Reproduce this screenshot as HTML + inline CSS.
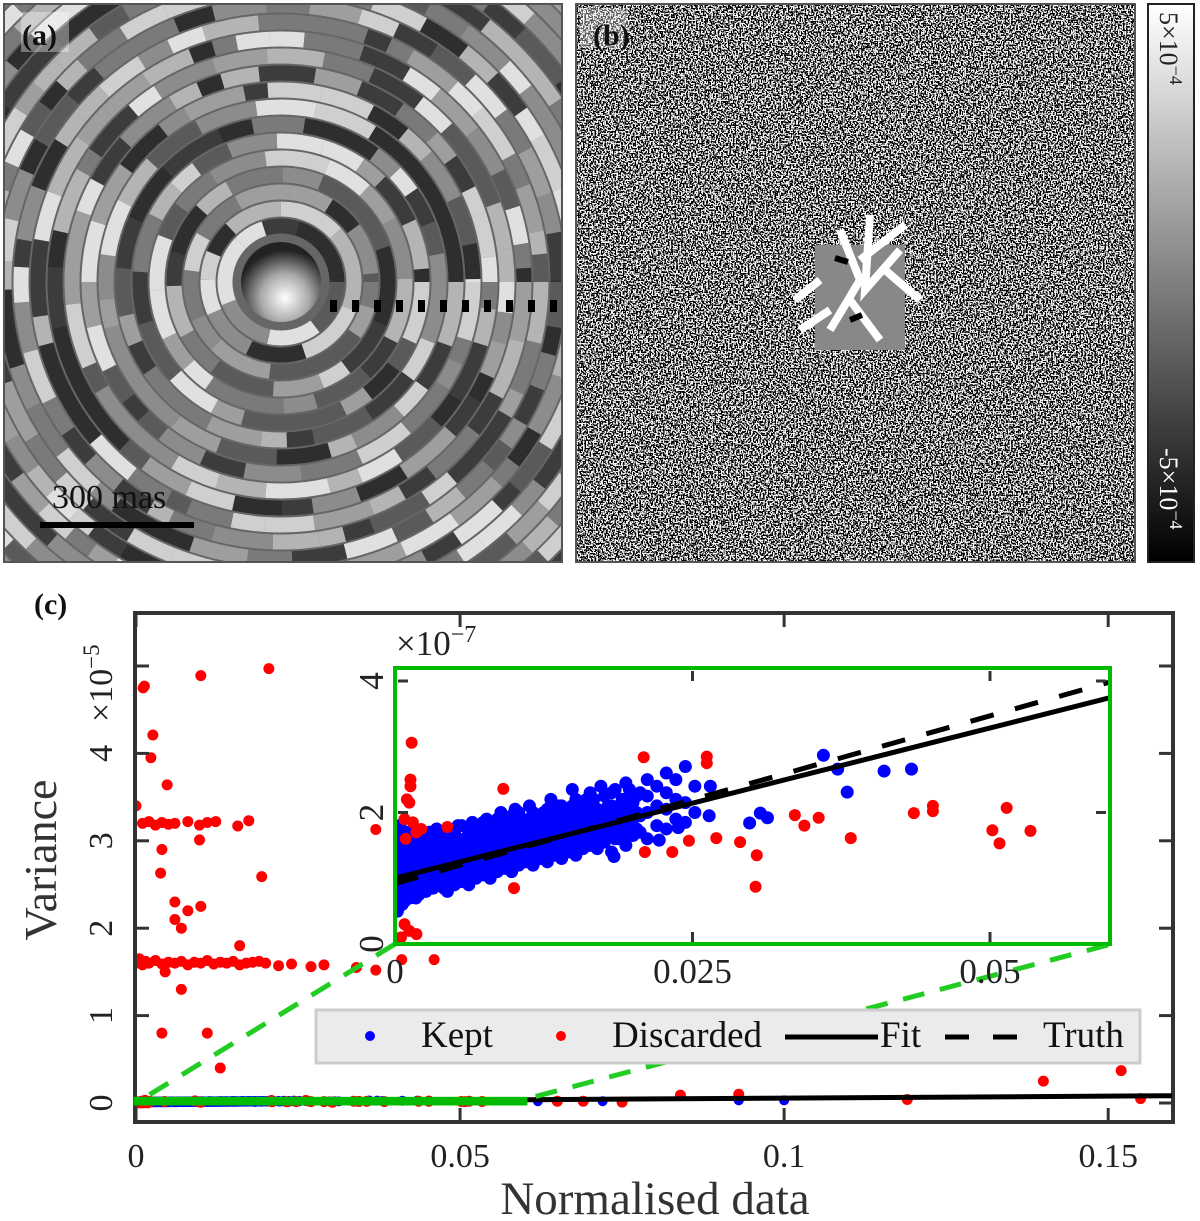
<!DOCTYPE html>
<html><head><meta charset="utf-8"><style>
html,body{margin:0;padding:0;background:#fff;width:1200px;height:1221px;overflow:hidden}
svg text{font-family:"Liberation Serif",serif}
</style></head><body>
<svg id="fig" width="1200" height="1221" viewBox="0 0 1200 1221" xmlns="http://www.w3.org/2000/svg">
<defs>
  <clipPath id="clipA"><rect x="5" y="5" width="556" height="556"/></clipPath>
  <clipPath id="clipB"><rect x="577" y="5" width="557" height="556"/></clipPath>
  <clipPath id="clipMain"><rect x="137" y="615" width="1035" height="505"/></clipPath>
  <clipPath id="clipInset"><rect x="396" y="669" width="713" height="274"/></clipPath>
  <radialGradient id="blob" cx="0.55" cy="0.7" r="0.6">
    <stop offset="0" stop-color="#fff"/><stop offset="0.5" stop-color="#aaa"/><stop offset="1" stop-color="#222"/>
  </radialGradient>
  <linearGradient id="cbar" x1="0" y1="0" x2="0" y2="1">
    <stop offset="0" stop-color="#fff"/><stop offset="1" stop-color="#000"/>
  </linearGradient>
  <filter id="noise" x="0" y="0" width="100%" height="100%">
    <feTurbulence type="fractalNoise" baseFrequency="0.6" numOctaves="1" seed="3"/>
    <feColorMatrix type="matrix" values="0 0 0 0 0  0 0 0 0 0  0 0 0 0 0  1 0 0 0 0"/>
    <feComponentTransfer><feFuncA type="discrete" tableValues="0 0 0 1 1 1"/></feComponentTransfer>
  </filter>
</defs>

<g>
  <rect x="3" y="3" width="560" height="560" fill="#555"/>
  <g id="rings" clip-path="url(#clipA)"></g>
  <circle cx="281" cy="282" r="40" fill="url(#blob)"/>
  <rect x="21" y="12" width="48" height="40" fill="#fff" opacity="0.35"/>
  <text x="22" y="45" font-size="30" font-weight="bold" fill="#111">(a)</text>
  <rect x="40" y="522" width="154" height="6" fill="#000"/>
  <text x="52" y="508" font-size="34" fill="#111">300 mas</text>
</g>

<g>
  <rect x="575" y="3" width="561" height="560" fill="#555"/>
  <g clip-path="url(#clipB)">
    <rect x="577" y="5" width="557" height="556" fill="#f4f4f4"/>
    <rect x="577" y="5" width="557" height="556" fill="#111" filter="url(#noise)"/>
    <g>
      <rect x="815" y="245" width="90" height="105" fill="#888"/>
      <path d="M840 230 L860 280 L830 330 M870 215 L865 290 L900 250 M850 300 L880 340 M820 280 L795 300 M830 310 L800 330 M885 270 L920 300 M860 260 L905 225" stroke="#fff" stroke-width="8" fill="none"/>
      <path d="M835 258 L848 262 M850 320 L862 315" stroke="#000" stroke-width="6"/>
    </g>
    <rect x="580" y="8" width="48" height="40" fill="#fff" opacity="0.35"/>
  </g>
  <text x="593" y="45" font-size="30" font-weight="bold" fill="#111">(b)</text>
</g>

<g>
  <rect x="1147" y="3" width="48" height="560" fill="#222"/>
  <rect x="1149" y="5" width="44" height="556" fill="url(#cbar)"/>
  <text transform="translate(1160,12) rotate(90)" font-size="26" fill="#222">5×10<tspan dy="-10" font-size="18">−4</tspan></text>
  <text transform="translate(1160,448) rotate(90)" font-size="26" fill="#fff">-5×10<tspan dy="-10" font-size="18">−4</tspan></text>
</g>

<text x="34" y="614" font-size="30" font-weight="bold" fill="#111">(c)</text>
<g id="chart"></g>
</svg>

<script>
const xTickValues = [0, 0.05, 0.1, 0.15];
const xTickLabels = ["0", "0.05", "0.1", "0.15"];
const yTickValues = [0, 1, 2, 3, 4, 5];
const yTickLabels = ["0", "1", "2", "3", "4", ""];
const insetXTickValues = [0, 0.025, 0.05];
const insetXTickLabels = ["0", "0.025", "0.05"];
const insetYTickValues = [0, 2, 4];
const insetYTickLabels = ["0", "2", "4"];

const discardedX = [0.0011,0.0013,0.010,0.0205,0.0026,0.0023,0.0048,0.0,0.001,0.002,0.003,0.004,0.005,0.006,0.008,0.0098,0.011,0.0123,0.0157,0.0174,0.0098,0.0038,0.0194,0.004,0.006,0.008,0.006,0.010,0.007,0.016,0.037,
  0.0,0.0005,0.001,0.0015,0.002,0.003,0.004,0.005,0.006,0.007,0.008,0.009,0.010,0.011,0.012,0.013,0.014,0.015,0.016,0.017,0.018,0.019,0.020,0.022,0.024,0.027,0.029,0.034,0.037,0.041,0.046,0.0045,
  0.007,0.004,0.011,0.013,
  0.065,0.069,0.075,0.084,0.093,0.119,0.140,0.152,0.155,
  0.0014,0.0013,0.0013,0.001,0.0012,0.0008,0.0015,0.0018,0.0022,0.0009,0.0091,0.0044,0.010,0.0209,0.0262,0.0262,0.021,0.0233,0.0247,0.027,0.029,0.0304,0.0303,0.0336,0.0344,0.0356,0.0383,0.0436,0.0452,0.0452,0.0514,0.0502,0.0508,0.0534,0.0008,0.0012,0.0018,0.0005];
const discardedY = [475,477,489,497,421,395,364,340,320,322,318,321,319,320,322,318,321,322,317,323,301,263,259,290,230,220,210,225,200,180,313,
  160,165,158,162,160,163,159,161,160,162,158,161,160,163,159,161,160,162,158,160,161,162,160,157,159,156,158,155,152,164,164,150,
  130,80,80,40,
  2,2,1,9,10,4,25,37,5,
  3.06,2.5,2.4,2.2,2.15,1.9,1.85,1.7,1.75,1.6,2.36,1.78,0.85,2.84,2.85,2.75,1.4,1.4,1.57,1.61,1.55,1.35,0.87,1.96,1.8,1.92,1.61,1.99,2.1,2.02,2.07,1.73,1.53,1.72,0.3,0.2,0.15,0.1];

const keptColX = [0.2,0.6,1.0,1.5,2.0,2.6,3.2,3.8,4.4,5.0,5.6,6.2,6.8,7.4,8.0,8.6,9.2,9.8,10.4,11.0,11.6,12.2,12.8,13.4,14.0,14.6,15.2,15.8,16.4,17.0,17.6,18.2,18.8,19.4,20.0,20.6,21.2,22.0,22.8,23.6,24.4,25.2];
const keptColY = [
 [0.5,0.7,0.9,1.1,1.3,1.5,1.7],[0.6,0.8,1.0,1.2,1.4,1.6],[0.7,0.9,1.1,1.3,1.5,1.7],[0.8,1.0,1.2,1.4,1.6],
 [0.75,0.95,1.15,1.35,1.55,1.7],[0.8,1.0,1.2,1.4,1.6],[0.85,1.05,1.25,1.45,1.65],[0.9,1.1,1.3,1.5,1.7],
 [0.8,1.0,1.2,1.4,1.6,1.75],[0.9,1.1,1.3,1.5,1.7],[0.95,1.15,1.35,1.55,1.8],[0.9,1.1,1.3,1.5,1.7],
 [1.0,1.2,1.4,1.6,1.8],[1.05,1.25,1.45,1.65,1.85],[1.0,1.2,1.4,1.6,1.8],[1.1,1.3,1.5,1.7,1.9],
 [1.15,1.35,1.55,1.75,1.9],[1.1,1.3,1.5,1.7,1.95],[1.2,1.4,1.6,1.8,2.0],[1.25,1.45,1.65,1.85],
 [1.2,1.4,1.6,1.8,2.0],[1.3,1.5,1.7,1.9],[1.25,1.45,1.65,1.85,2.05],[1.35,1.55,1.75,1.95],
 [1.3,1.5,1.7,1.9,2.1],[1.4,1.6,1.8,2.0],[1.35,1.55,1.75,1.95,2.2],[1.45,1.65,1.85,2.05],
 [1.5,1.7,1.9,2.15,2.3],[1.45,1.65,1.85,2.05],[1.55,1.8,2.0,2.25],[1.4,1.7,1.9,2.1,2.3],
 [1.6,1.85,2.1],[1.5,1.75,2.0,2.2,2.45],[1.65,1.9,2.15],[1.7,1.95,2.3],[1.6,2.0,2.25,2.5],
 [1.8,2.1,2.4],[1.75,2.05,2.3,2.6],[1.9,2.2,2.5],[1.85,2.15,2.7],[2.0,2.4]];
// offset columns filling the gaps of the dense band
const keptCol2X = [0.4,0.8,1.25,1.75,2.3,2.9,3.5,4.1,4.7,5.3,5.9,6.5,7.1,7.7,8.3,8.9,9.5,10.1,10.7,11.3,11.9,12.5,13.1,13.7,14.3,14.9,15.5,16.1,16.7,17.3,17.9,18.5,19.1,19.7,20.3];
const keptCol2Y = [
 [0.6,0.8,1.0,1.2,1.4,1.6,1.8],[0.65,0.9,1.1,1.3,1.5,1.7],[0.7,0.95,1.15,1.35,1.55],[0.7,0.9,1.1,1.3,1.5,1.7],
 [0.85,1.05,1.25,1.45,1.65],[0.9,1.1,1.3,1.5,1.7],[0.95,1.15,1.35,1.55,1.75],[0.85,1.0,1.2,1.4,1.6],
 [0.9,1.1,1.3,1.5,1.7],[1.0,1.2,1.4,1.6,1.8],[1.0,1.2,1.4,1.6],[1.05,1.25,1.45,1.65,1.85],
 [1.1,1.3,1.5,1.7],[1.1,1.3,1.5,1.7,1.9],[1.15,1.35,1.55,1.75],[1.2,1.4,1.6,1.8,2.0],
 [1.2,1.4,1.6,1.8],[1.25,1.45,1.65,1.85,2.05],[1.3,1.5,1.7,1.9],[1.3,1.5,1.7,1.9,2.1],
 [1.35,1.55,1.75,1.95],[1.35,1.6,1.8,2.0],[1.4,1.6,1.8,2.0,2.2],[1.45,1.65,1.85,2.1],
 [1.4,1.6,1.8,2.0],[1.5,1.7,1.9,2.1,2.35],[1.5,1.7,1.9,2.1],[1.55,1.75,1.95,2.2],
 [1.6,1.8,2.0,2.2],[1.55,1.8,2.0,2.4],[1.65,1.9,2.1],[1.6,1.85,2.05,2.35],[1.7,1.95,2.2],
 [1.65,1.9,2.1,2.35],[1.75,2.0,2.25]];
const keptExtraX = [0.0265,0.0264,0.0298,0.0307,0.0313,0.0184,0.0238,0.0222,0.036,0.0372,0.038,0.0411,0.0434,0.062,0.072,0.093,0.100];
const keptExtraY = [2.4,1.95,1.84,1.99,1.92,1.33,1.77,1.58,2.87,2.66,2.31,2.63,2.66,2,2,3,3];

const fitIntercept = 1.0, fitSlope = 45.7;
const truthIntercept = 0.92, truthSlope = 51.0;

const NS = "http://www.w3.org/2000/svg";
const chart = document.getElementById("chart");
function mk(tag, attrs, parent){ const e=document.createElementNS(NS,tag); for(const k in attrs) e.setAttribute(k,attrs[k]); (parent||chart).appendChild(e); return e; }

const M = {x0:136, x1:1173, y0:1103, yPerUnit:87.4, xmax:0.16};
const mx = v => M.x0 + v/M.xmax*(M.x1-M.x0);
const my = v7 => M.y0 - (v7/100)*M.yPerUnit;
const I = {x0:395, x1:1109, y0:944, yPerUnit:65.75, xmax:0.06};
const ix = v => I.x0 + v/I.xmax*(I.x1-I.x0);
const iy = v7 => I.y0 - v7*I.yPerUnit;

const keptX=[], keptY=[];
keptColX.forEach((cx,i)=>keptColY[i].forEach(y=>{keptX.push(cx/1000); keptY.push(y);}));
keptCol2X.forEach((cx,i)=>keptCol2Y[i].forEach(y=>{keptX.push(cx/1000); keptY.push(y);}));
keptExtraX.forEach((x,i)=>{keptX.push(x); keptY.push(keptExtraY[i]);});

const mainG = mk("g",{});


mk("rect",{x:135,y:613,width:1038,height:509,fill:"#fff",stroke:"#333","stroke-width":4},mainG);

const mainMarks = mk("g",{"clip-path":"url(#clipMain)"},mainG);
keptX.forEach((x,i)=>{ const c=mk("circle",{cx:mx(x),cy:my(keptY[i]),r:5,fill:"#00f"},mainMarks);
    });
discardedX.forEach((x,i)=>{ const c=mk("circle",{cx:mx(x),cy:my(discardedY[i]),r:5.5,fill:"#f00"},mainMarks);
    });
const mfit = mk("line",{x1:mx(0),y1:my(fitIntercept),x2:mx(M.xmax),y2:my(fitIntercept+fitSlope*M.xmax),stroke:"#000","stroke-width":5},mainMarks);
 

xTickValues.forEach((v,i)=>{
  const x=mx(v);
  mk("line",{x1:x,y1:1120,x2:x,y2:1108,stroke:"#333","stroke-width":3},mainG);
  mk("line",{x1:x,y1:615,x2:x,y2:627,stroke:"#333","stroke-width":3},mainG);
  const t=mk("text",{x:x,y:1167,"font-size":34,"text-anchor":"middle",fill:"#222"},mainG); t.textContent=xTickLabels[i];
   
});
yTickValues.forEach((v,i)=>{
  const y=my(v*100);
  mk("line",{x1:137,y1:y,x2:149,y2:y,stroke:"#333","stroke-width":3},mainG);
  mk("line",{x1:1171,y1:y,x2:1159,y2:y,stroke:"#333","stroke-width":3},mainG);
  if(yTickLabels[i]){ const t=mk("text",{transform:`translate(112,${y}) rotate(-90)`,"font-size":34,"text-anchor":"middle",fill:"#222"},mainG); t.textContent=yTickLabels[i];
    }
});
const yexp = mk("text",{transform:"translate(112,722) rotate(-90)","font-size":34,fill:"#222"},mainG);
yexp.innerHTML='×10<tspan dy="-13" font-size="23">−5</tspan>';
 
const ylab = mk("text",{transform:"translate(56,860) rotate(-90)","font-size":46,"text-anchor":"middle",fill:"#333"},mainG);
ylab.textContent="Variance";  
const xlab = mk("text",{x:655,y:1214,"font-size":47,"text-anchor":"middle",fill:"#333"},mainG);
xlab.textContent="Normalised data";  

const zoomRect = mk("rect",{x:mx(0),y:my(4.2),width:mx(I.xmax)-mx(0),height:my(0)-my(4.2),fill:"none",stroke:"#0b0","stroke-width":5});
 
const c1 = mk("line",{x1:395,y1:944,x2:mx(0),y2:my(0),stroke:"#2c2","stroke-width":5,"stroke-dasharray":"22,16"});
 
const c2 = mk("line",{x1:1108,y1:945,x2:mx(I.xmax),y2:my(4.2),stroke:"#2c2","stroke-width":5,"stroke-dasharray":"22,16"});
 

const inG = mk("g",{});
 
mk("rect",{x:395,y:668,width:715,height:276,fill:"#fff"},inG);
const inMarks = mk("g",{"clip-path":"url(#clipInset)"},inG);
keptX.forEach((x,i)=>{ const c=mk("circle",{cx:ix(x),cy:iy(keptY[i]),r:6.5,fill:"#00f"},inMarks);
    });
discardedX.forEach((x,i)=>{ const c=mk("circle",{cx:ix(x),cy:iy(discardedY[i]),r:6,fill:"#f00"},inMarks);
    });
const ifit = mk("line",{x1:ix(0),y1:iy(fitIntercept),x2:ix(I.xmax),y2:iy(fitIntercept+fitSlope*I.xmax),stroke:"#000","stroke-width":5},inMarks);
 
const itru = mk("line",{x1:ix(0),y1:iy(truthIntercept),x2:ix(I.xmax),y2:iy(truthIntercept+truthSlope*I.xmax),stroke:"#000","stroke-width":5,"stroke-dasharray":"24,22"},inMarks);
 
insetXTickValues.forEach((v,i)=>{
  const x=ix(v);
  if(v>0){ mk("line",{x1:x,y1:942,x2:x,y2:932,stroke:"#333","stroke-width":3},inG);
  mk("line",{x1:x,y1:671,x2:x,y2:681,stroke:"#333","stroke-width":3},inG); }
  const t=mk("text",{x:x,y:983,"font-size":35,"text-anchor":"middle",fill:"#222"},inG); t.textContent=insetXTickLabels[i];
   
});
insetYTickValues.forEach((v,i)=>{
  const y=iy(v);
  if(v>0){ mk("line",{x1:398,y1:y,x2:408,y2:y,stroke:"#333","stroke-width":3},inG);
  mk("line",{x1:1106,y1:y,x2:1096,y2:y,stroke:"#333","stroke-width":3},inG); }
  const t=mk("text",{transform:`translate(383,${y}) rotate(-90)`,"font-size":35,"text-anchor":"middle",fill:"#222"},inG); t.textContent=insetYTickLabels[i];
   
});
mk("rect",{x:395,y:668,width:715,height:276,fill:"none",stroke:"#0b0","stroke-width":4},inG);
const iexp = mk("text",{x:396,y:655,"font-size":35,fill:"#222"},inG);
iexp.innerHTML='×10<tspan dy="-13" font-size="24">−7</tspan>';
 

const lg = mk("g",{});
 
mk("rect",{x:316,y:1010,width:824,height:53,fill:"#ebebeb",stroke:"#ccc","stroke-width":3},lg);
mk("circle",{cx:370,cy:1036,r:5,fill:"#00f"},lg);
let t=mk("text",{x:421,y:1047,"font-size":37,fill:"#111"},lg); t.textContent="Kept";
 
mk("circle",{cx:561,cy:1036,r:5,fill:"#f00"},lg);
t=mk("text",{x:612,y:1047,"font-size":37,fill:"#111"},lg); t.textContent="Discarded";
 
mk("line",{x1:785,y1:1037,x2:878,y2:1037,stroke:"#000","stroke-width":5},lg);
t=mk("text",{x:880,y:1047,"font-size":37,fill:"#111"},lg); t.textContent="Fit";
 
mk("line",{x1:945,y1:1037,x2:1018,y2:1037,stroke:"#000","stroke-width":5,"stroke-dasharray":"24,24"},lg);
t=mk("text",{x:1043,y:1047,"font-size":37,fill:"#111"},lg); t.textContent="Truth";
 

// panel (a) ring texture
const rings = document.getElementById("rings");
mk("rect",{x:5,y:5,width:556,height:556,fill:"#666"},rings);
const grays = ["#2e2e2e","#3c3c3c","#5a5a5a","#7a7a7a","#8c8c8c","#9e9e9e","#b4b4b4","#cfcfcf","#e0e0e0"];
let seed = 7;
function nxt(){ seed = (seed*1103515245+12345) % 2147483648; return seed/2147483648; }
const cx=281, cy=282;
for(let r=50; r<420; r+=17){
  let a=0;
  while(a<Math.PI*2){
    const len = (22+nxt()*40)/r;
    const a2 = Math.min(a+len, Math.PI*2);
    const rr=r+6;
    const d=`M${cx+rr*Math.cos(a)} ${cy+rr*Math.sin(a)} A${rr} ${rr} 0 0 1 ${cx+rr*Math.cos(a2)} ${cy+rr*Math.sin(a2)}`;
    mk("path",{d:d,stroke:grays[Math.floor(nxt()*grays.length)],"stroke-width":15,fill:"none"},rings);
    a=a2;
  }
}
for(let x=330;x<560;x+=22){ mk("rect",{x:x,y:300,width:7,height:12,fill:"#000"},rings); }
</script>
</body></html>
